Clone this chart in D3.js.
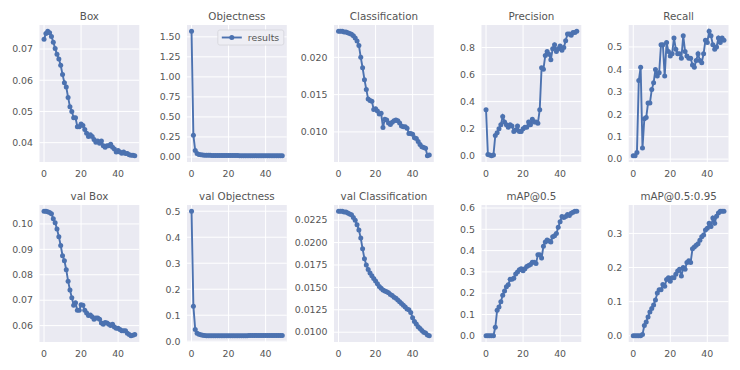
<!doctype html>
<html>
<head>
<script src="https://cdnjs.cloudflare.com/ajax/libs/d3/7.8.5/d3.min.js"></script>
<style>
  body { margin: 0; background: #fff; }
  text { font-family: "DejaVu Sans", sans-serif; }
</style>
</head>
<body>
<svg id="chart" width="740" height="370"></svg>
<script>
// epochs 0..49
var epochs = d3.range(0, 50);

var titles = ["Box", "Objectness", "Classification", "Precision", "Recall",
              "val Box", "val Objectness", "val Classification", "mAP@0.5", "mAP@0.5:0.95"];

var box = [0.0731, 0.0750, 0.0757, 0.0752, 0.0740, 0.0722, 0.0702, 0.0683, 0.0668, 0.0648,
           0.0618, 0.0592, 0.0578, 0.0545, 0.0515, 0.0500, 0.0480, 0.0480, 0.0451, 0.0451,
           0.0460, 0.0455, 0.0442, 0.0430, 0.0420, 0.0425, 0.0420, 0.0410, 0.0401, 0.0405,
           0.0398, 0.0405, 0.0390, 0.0385, 0.0390, 0.0390, 0.0395, 0.0385, 0.0380, 0.0370,
           0.0375, 0.0370, 0.0366, 0.0370, 0.0365, 0.0365, 0.0361, 0.0360, 0.0360, 0.0358];

var objectness = [1.57, 0.27, 0.08, 0.042, 0.032, 0.027, 0.024, 0.022, 0.021, 0.020,
                  0.020, 0.019, 0.019, 0.019, 0.018, 0.018, 0.018, 0.018, 0.018, 0.017,
                  0.017, 0.017, 0.017, 0.017, 0.017, 0.017, 0.016, 0.016, 0.016, 0.016,
                  0.016, 0.016, 0.016, 0.016, 0.016, 0.016, 0.016, 0.016, 0.016, 0.016,
                  0.015, 0.015, 0.015, 0.015, 0.015, 0.015, 0.015, 0.015, 0.015, 0.015];

var classification = [0.0235, 0.0235, 0.0235, 0.0234, 0.0234, 0.0233, 0.0232, 0.0231, 0.0229, 0.0226,
                      0.0222, 0.0216, 0.0200, 0.0186, 0.0170, 0.0157, 0.0144, 0.0142, 0.0141, 0.0130,
                      0.0131, 0.0128, 0.0124, 0.0125, 0.0106, 0.0117, 0.0116, 0.0112, 0.0110, 0.0113,
                      0.0115, 0.0116, 0.0115, 0.0112, 0.0108, 0.0107, 0.0107, 0.0105, 0.0098, 0.0098,
                      0.0097, 0.0092, 0.0091, 0.0087, 0.0083, 0.0080, 0.0079, 0.0078, 0.0068, 0.0069];

var precision = [0.34, 0.01, 0.005, 0.0, 0.005, 0.15, 0.17, 0.20, 0.23, 0.29,
                 0.25, 0.23, 0.21, 0.23, 0.22, 0.18, 0.19, 0.22, 0.18, 0.18,
                 0.20, 0.21, 0.21, 0.25, 0.23, 0.27, 0.25, 0.25, 0.24, 0.34,
                 0.65, 0.64, 0.74, 0.77, 0.75, 0.71, 0.79, 0.82, 0.77, 0.79,
                 0.81, 0.78, 0.80, 0.85, 0.90, 0.90, 0.89, 0.91, 0.91, 0.92];

var recall = [0.015, 0.015, 0.03, 0.35, 0.41, 0.05, 0.18, 0.185, 0.25, 0.25,
              0.31, 0.34, 0.40, 0.37, 0.385, 0.51, 0.51, 0.37, 0.52, 0.48,
              0.46, 0.47, 0.54, 0.49, 0.47, 0.47, 0.45, 0.55, 0.48, 0.46,
              0.45, 0.45, 0.42, 0.41, 0.44, 0.47, 0.44, 0.43, 0.47, 0.53,
              0.52, 0.57, 0.55, 0.51, 0.49, 0.50, 0.54, 0.52, 0.54, 0.53];

var valBox = [0.1050, 0.1050, 0.1048, 0.1045, 0.1040, 0.1020, 0.1005, 0.0980, 0.0950, 0.0915,
              0.0875, 0.0855, 0.0820, 0.0775, 0.0740, 0.0710, 0.0680, 0.0690, 0.0660, 0.0660,
              0.0682, 0.0680, 0.0660, 0.0650, 0.0640, 0.0642, 0.0635, 0.0625, 0.0630, 0.0630,
              0.0625, 0.0610, 0.0605, 0.0612, 0.0610, 0.0605, 0.0600, 0.0605, 0.0595, 0.0590,
              0.0590, 0.0585, 0.0580, 0.0580, 0.0580, 0.0570, 0.0565, 0.0560, 0.0562, 0.0565];

var valObjectness = [0.50, 0.135, 0.045, 0.031, 0.027, 0.025, 0.023, 0.022, 0.021, 0.021,
                     0.021, 0.021, 0.021, 0.021, 0.021, 0.021, 0.021, 0.021, 0.021, 0.021,
                     0.021, 0.021, 0.021, 0.021, 0.021, 0.021, 0.021, 0.021, 0.021, 0.021,
                     0.021, 0.022, 0.022, 0.022, 0.022, 0.022, 0.022, 0.022, 0.022, 0.022,
                     0.022, 0.022, 0.022, 0.022, 0.022, 0.022, 0.022, 0.022, 0.022, 0.022];

var valClassification = [0.0235, 0.0235, 0.0235, 0.0234, 0.0234, 0.0233, 0.0232, 0.0231, 0.0228, 0.0225,
                         0.0220, 0.0214, 0.0205, 0.0193, 0.0182, 0.0175, 0.0170, 0.0166, 0.0163, 0.0160,
                         0.0157, 0.0154, 0.0151, 0.0149, 0.0147, 0.0146, 0.0145, 0.0144, 0.0142, 0.0141,
                         0.0139, 0.0138, 0.0136, 0.0134, 0.0132, 0.0130, 0.0128, 0.0126, 0.0125, 0.0122,
                         0.0116, 0.0112, 0.0109, 0.0106, 0.0104, 0.0102, 0.0100, 0.0099, 0.0097, 0.0096];

var map50 = [0.0, 0.0, 0.0, 0.0, 0.0, 0.04, 0.12, 0.135, 0.16, 0.19,
             0.21, 0.23, 0.24, 0.265, 0.265, 0.27, 0.29, 0.30, 0.31, 0.315,
             0.305, 0.315, 0.325, 0.33, 0.335, 0.345, 0.345, 0.34, 0.38, 0.38,
             0.365, 0.42, 0.44, 0.45, 0.445, 0.44, 0.465, 0.47, 0.48, 0.51,
             0.535, 0.56, 0.555, 0.56, 0.57, 0.565, 0.575, 0.58, 0.585, 0.585];

var map5095 = [0.0, 0.0, 0.0, 0.0, 0.0, 0.004, 0.03, 0.04, 0.055, 0.07,
               0.08, 0.09, 0.105, 0.125, 0.135, 0.135, 0.15, 0.145, 0.165, 0.17,
               0.16, 0.17, 0.17, 0.18, 0.19, 0.195, 0.175, 0.20, 0.195, 0.215,
               0.22, 0.215, 0.255, 0.26, 0.265, 0.27, 0.28, 0.29, 0.295, 0.31,
               0.315, 0.33, 0.32, 0.345, 0.33, 0.35, 0.36, 0.365, 0.365, 0.365];

var series = [box, objectness, classification, precision, recall,
              valBox, valObjectness, valClassification, map50, map5095];

// y tick values and decimals for each panel
var yTicks = [
  [0.04, 0.05, 0.06, 0.07],
  [0, 0.25, 0.5, 0.75, 1.0, 1.25, 1.5],
  [0.010, 0.015, 0.020],
  [0, 0.2, 0.4, 0.6, 0.8],
  [0, 0.1, 0.2, 0.3, 0.4, 0.5],
  [0.06, 0.07, 0.08, 0.09, 0.10],
  [0, 0.1, 0.2, 0.3, 0.4, 0.5],
  [0.0100, 0.0125, 0.0150, 0.0175, 0.0200, 0.0225],
  [0, 0.1, 0.2, 0.3, 0.4, 0.5, 0.6],
  [0, 0.1, 0.2, 0.3]
];
var yDecimals = [2, 2, 3, 1, 1, 2, 1, 4, 1, 1];
var xTicks = [0, 20, 40];

var svg = d3.select("#chart");
var blue = "#4c72b0";
var textCol = "#555";
var colLeft = [39.5, 187, 334, 481.5, 628.7];
var rowTop = [25, 205];
var pw = 99.8, ph = 137;

var xScale = d3.scaleLinear().domain([-2.45, 51.45]).range([0, pw]);

series.forEach(function(vals, i) {
  var col = i % 5, row = Math.floor(i / 5);
  var g = svg.append("g").attr("transform", "translate(" + colLeft[col] + "," + rowTop[row] + ")");

  var ext = d3.extent(vals);
  var pad = (ext[1] - ext[0]) * 0.05;
  var yScale = d3.scaleLinear().domain([ext[0] - pad, ext[1] + pad]).range([ph, 0]);

  g.append("rect").attr("width", pw).attr("height", ph).attr("fill", "#eaeaf2");

  // grid
  g.selectAll(".gy").data(yTicks[i]).enter().append("line")
    .attr("x1", 0).attr("x2", pw)
    .attr("y1", d => yScale(d)).attr("y2", d => yScale(d))
    .attr("stroke", "#fff").attr("stroke-width", 1);
  g.selectAll(".gx").data(xTicks).enter().append("line")
    .attr("y1", 0).attr("y2", ph)
    .attr("x1", d => xScale(d)).attr("x2", d => xScale(d))
    .attr("stroke", "#fff").attr("stroke-width", 1);

  // tick labels
  g.selectAll(".ty").data(yTicks[i]).enter().append("text")
    .attr("x", -6.5).attr("y", d => yScale(d)).attr("dy", "0.35em")
    .attr("text-anchor", "end").attr("font-size", 9.4).attr("fill", textCol)
    .text(d => d.toFixed(yDecimals[i]));
  g.selectAll(".tx").data(xTicks).enter().append("text")
    .attr("x", d => xScale(d)).attr("y", ph + 15)
    .attr("text-anchor", "middle").attr("font-size", 9.4).attr("fill", textCol)
    .text(d => d);

  g.append("text").attr("x", pw / 2).attr("y", -5.5)
    .attr("text-anchor", "middle").attr("font-size", 10.3).attr("fill", textCol)
    .text(titles[i]);

  var line = d3.line().x((d, j) => xScale(epochs[j])).y(d => yScale(d));
  g.append("path").datum(vals).attr("d", line)
    .attr("fill", "none").attr("stroke", blue).attr("stroke-width", 1.9);
  g.selectAll(".pt").data(vals).enter().append("circle")
    .attr("cx", (d, j) => xScale(epochs[j])).attr("cy", d => yScale(d))
    .attr("r", 2.5).attr("fill", blue);

  if (i == 1) {
    var lg = g.append("g").attr("transform", "translate(" + (pw - 69) + ",5)");
    lg.append("rect").attr("width", 66).attr("height", 15).attr("rx", 2)
      .attr("fill", "#eeeef4").attr("stroke", "#d4d4da").attr("stroke-width", 0.8);
    lg.append("line").attr("x1", 4).attr("x2", 24).attr("y1", 7.5).attr("y2", 7.5)
      .attr("stroke", blue).attr("stroke-width", 1.9);
    lg.append("circle").attr("cx", 14).attr("cy", 7.5).attr("r", 2.5).attr("fill", blue);
    lg.append("text").attr("x", 30).attr("y", 7.5).attr("dy", "0.35em")
      .attr("font-size", 9.4).attr("fill", textCol).text("results");
  }
});
</script>
</body>
</html>
